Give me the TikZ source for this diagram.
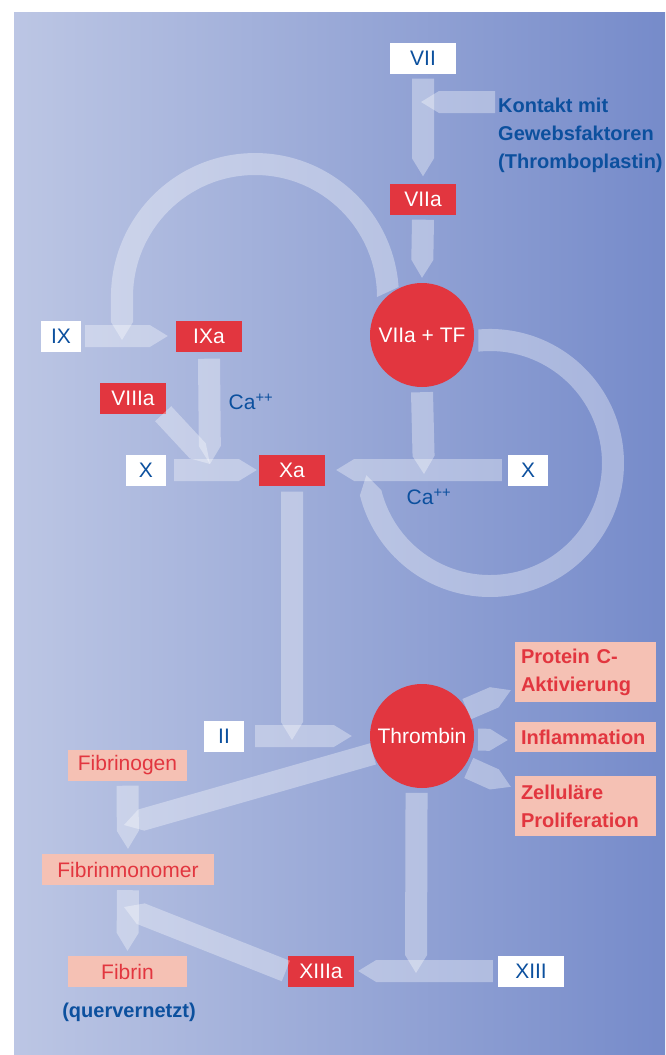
\documentclass[tikz,border=0pt]{standalone}
\usepackage{fontspec}
\setmainfont{Liberation Sans}
\usetikzlibrary{calc}
\definecolor{BgLight}{RGB}{188,198,228}
\definecolor{BgDark}{RGB}{118,139,202}
\definecolor{FactRed}{RGB}{226,54,63}
\definecolor{FactPink}{RGB}{245,193,180}
\definecolor{TextBlue}{RGB}{12,80,158}

% broad light arrow with a pointed end, from #1 to the tip #2
\newcommand\fatarrow[2]{%
  \path #1 coordinate (fa-s) #2 coordinate (fa-t);
  \path ($(fa-t)!18pt!(fa-s)$) coordinate (fa-n);
  \fill[band] ($(fa-s)!11pt!90:(fa-t)$) -- ($(fa-n)!11pt!-90:(fa-s)$) -- (fa-t)
    -- ($(fa-n)!11pt!90:(fa-s)$) -- ($(fa-s)!11pt!-90:(fa-t)$) -- cycle;}

\begin{document}
\begin{tikzpicture}[x=1pt,y=-1pt,
  band/.style={fill=white,fill opacity=0.34},
  factor/.style={inner sep=0pt,minimum height=31pt,minimum width=66pt,
    font=\fontsize{21}{21}\selectfont},
  whitebox/.style={factor,fill=white,text=TextBlue},
  redbox/.style={factor,fill=FactRed,text=white},
  pinkbox/.style={factor,fill=FactPink,text=FactRed},
  effect/.style={fill=FactPink,text=FactRed,inner sep=0pt,inner xsep=6pt,
    text width=129pt,align=left,font=\fontsize{20}{28}\bfseries\selectfont},
  complex/.style={circle,fill=FactRed,text=white,inner sep=0pt,minimum size=104pt,
    font=\fontsize{21}{21}\selectfont},
  note/.style={text=TextBlue,inner sep=0pt,align=left,
    font=\fontsize{20}{28}\bfseries\selectfont},
  ion/.style={text=TextBlue,inner sep=0pt,font=\fontsize{21}{21}\selectfont}]

\useasboundingbox (0,0) rectangle (665,1055);
\fill[white] (0,0) rectangle (665,1055);
\fill[left color=BgLight,right color=BgDark] (14,12) rectangle (665,1055);

\node[whitebox] (vii) at (423,58) {VII};
\node[note,anchor=west] (kontakt) at (498,135) {Kontakt mit\\Gewebsfaktoren\\(Thromboplastin)};
\node[redbox] (viia) at (423,199) {VIIa};
\node[complex] (viiatf) at (422,335) {VIIa + TF};
\node[whitebox,minimum width=40pt] (ix) at (61,336) {IX};
\node[redbox] (ixa) at (209,336) {IXa};
\node[redbox] (viiia) at (133,398) {VIIIa};
\node[ion] (ca1) at (251,402) {Ca\textsuperscript{++}};
\node[whitebox,minimum width=40pt] (xl) at (146,470) {X};
\node[redbox] (xa) at (292,470) {Xa};
\node[whitebox,minimum width=40pt] (xr) at (528,470) {X};
\node[ion] (ca2) at (429,497) {Ca\textsuperscript{++}};
\node[whitebox,minimum width=40pt] (ii) at (224,736) {II};
\node[complex] (thrombin) at (422,736) {Thrombin};
\node[effect,minimum height=60pt] (protc) at (585.5,672) {Protein C-\\Aktivierung};
\node[effect,minimum height=30pt] (infl) at (585.5,737) {Inflammation};
\node[effect,minimum height=60pt] (zell) at (585.5,806) {Zelluläre\\Proliferation};
\node[pinkbox,minimum width=119pt] (fibrinogen) at (127.5,765) {Fibrinogen};
\node[pinkbox,minimum width=172pt] (monomer) at (128,869.5) {Fibrinmonomer};
\node[pinkbox,minimum width=119pt] (fibrin) at (127.5,971.5) {Fibrin};
\node[note] (querv) at (129,1012) {(quervernetzt)};
\node[redbox] (xiiia) at (321,971) {XIIIa};
\node[whitebox] (xiii) at (531,971) {XIII};

\coordinate (kout) at (495,102);
\coordinate (kin) at (421,102);
\coordinate (jx) at (210,464);
\coordinate (jxa) at (424,474);
\coordinate (jth) at (292,740);
\coordinate (jfib) at (124,825);
\coordinate (jmono) at (124,907);
\coordinate (jxiii) at (416,973);

\fatarrow{([yshift=-5pt]vii.south)}{([yshift=7pt]viia.north)}
\fatarrow{(kout)}{(kin)}
\fatarrow{([yshift=-5pt]viia.south)}{([yshift=5pt]viiatf.north)}
% VIIa+TF back to IX
\fill[band] (398.6,287) arc[start angle=4,end angle=180,radius=144pt] -- (111,322)
  -- (122,340) -- (133,322) -- (133,297) arc[start angle=180,end angle=0,radius=122pt] -- cycle;
\fatarrow{([xshift=4pt]ix.east)}{([xshift=-8pt]ixa.west)}
\fatarrow{([yshift=-7pt]ixa.south)}{(jx)}
\fatarrow{([xshift=-3pt]viiia.south east)}{(jx)}
\fatarrow{([xshift=8pt]xl.east)}{([xshift=-2pt]xa.west)}
\fatarrow{([yshift=-5pt]viiatf.south)}{(jxa)}
\fatarrow{([xshift=-6pt]xr.west)}{([xshift=11pt]xa.east)}
% loop round the right X
\fill[band] (478.3,329.5) arc[start angle=95,end angle=-166,radius=134pt] -- (366.3,475.3)
  -- (381.3,490.1) arc[start angle=-166,end angle=96,radius=112pt] -- cycle;
\fatarrow{([yshift=-6pt]xa.south)}{(jth)}
\fatarrow{([xshift=11pt]ii.east)}{([xshift=-18pt]thrombin.west)}
\fatarrow{(thrombin.200)}{(jfib)}
\fatarrow{([yshift=-5pt]fibrinogen.south)}{([yshift=5pt]monomer.north)}
\fatarrow{([yshift=-5pt]monomer.south)}{([yshift=5pt]fibrin.north)}
\fatarrow{([xshift=-2pt]xiiia.west)}{(jmono)}
\fatarrow{([yshift=-5pt]thrombin.-96)}{(jxiii)}
\fatarrow{([xshift=-5pt]xiii.west)}{([xshift=4pt]xiiia.east)}
\fatarrow{(thrombin.31)}{([shift={(-4pt,12pt)}]protc.south west)}
\fatarrow{([xshift=4pt]thrombin.-4)}{([shift={(-7pt,-3pt)}]infl.west)}
\fatarrow{([shift={(4pt,-2pt)}]thrombin.-35)}{([shift={(-4pt,-11pt)}]zell.north west)}

\end{tikzpicture}
\end{document}
